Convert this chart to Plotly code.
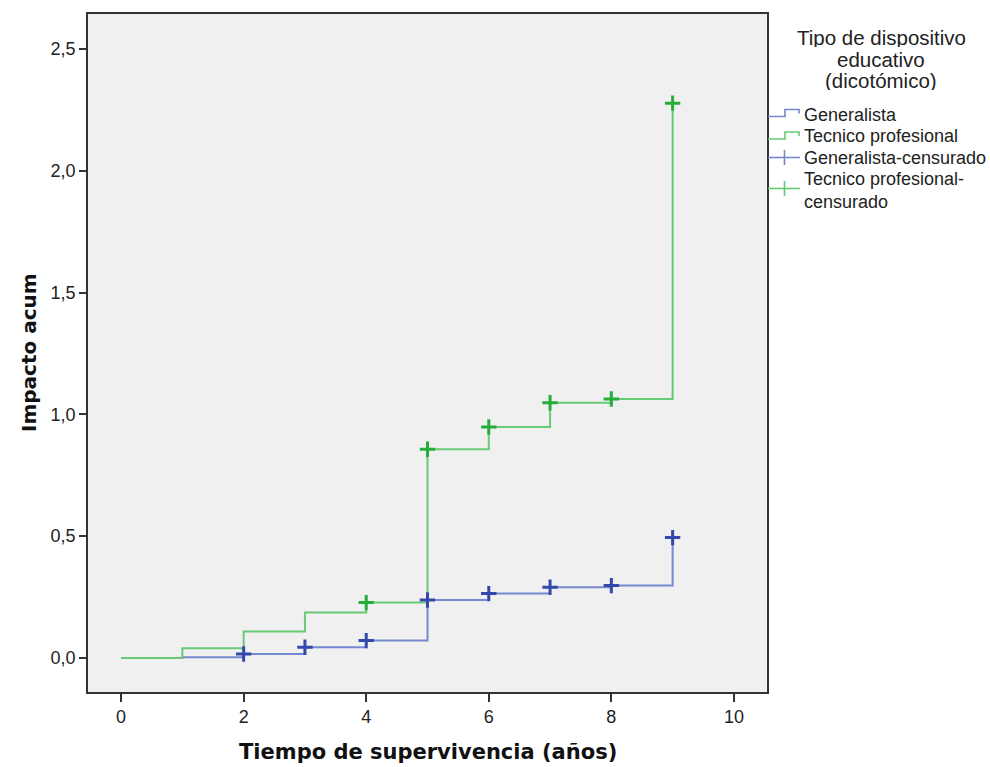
import plotly.graph_objects as go

# Cumulative hazard by year, per type of educational programme
times = [0, 1, 2, 3, 4, 5, 6, 7, 8, 9]
hazard_generalista = [0.0, 0.003, 0.016, 0.044, 0.071, 0.238, 0.264, 0.290, 0.297, 0.494]
hazard_tecnico = [0.0, 0.040, 0.108, 0.186, 0.227, 0.857, 0.948, 1.048, 1.063, 2.278]

# Times with censored observations
censored_generalista = [2, 3, 4, 5, 6, 7, 8, 9]
censored_tecnico = [4, 5, 6, 7, 8, 9]

x_ticks = [0, 2, 4, 6, 8, 10]
y_ticks = [0.0, 0.5, 1.0, 1.5, 2.0, 2.5]
y_tick_labels = ["0,0", "0,5", "1,0", "1,5", "2,0", "2,5"]

legend_title_lines = ["Tipo de dispositivo", "educativo", "(dicotómico)"]
legend_labels = ["Generalista", "Tecnico profesional", "Generalista-censurado",
                 "Tecnico profesional-<br>censurado"]

BLUE_LINE = "rgb(118,136,206)"
BLUE_MARK = "rgb(52,72,172)"
GREEN_LINE = "rgb(104,202,116)"
GREEN_MARK = "rgb(38,174,60)"

W, H = 990, 767
L, R, T, B = 88, 767, 14, 692
TEXT_FONT = "Liberation Sans, Arial"

fig = go.Figure()

fig.add_trace(go.Scatter(x=times, y=hazard_generalista, mode="lines",
                         line=dict(shape="hv", color=BLUE_LINE, width=2),
                         name="Generalista", showlegend=False))
fig.add_trace(go.Scatter(x=times, y=hazard_tecnico, mode="lines",
                         line=dict(shape="hv", color=GREEN_LINE, width=2),
                         name="Tecnico profesional", showlegend=False))

gen_y = [hazard_generalista[times.index(t)] for t in censored_generalista]
tec_y = [hazard_tecnico[times.index(t)] for t in censored_tecnico]

fig.add_trace(go.Scatter(x=censored_generalista, y=gen_y, mode="markers",
                         marker=dict(symbol="cross-thin", size=11,
                                     line=dict(color=BLUE_MARK, width=3)),
                         name="Generalista-censurado", showlegend=False))
fig.add_trace(go.Scatter(x=censored_tecnico, y=tec_y, mode="markers",
                         marker=dict(symbol="cross-thin", size=11,
                                     line=dict(color=GREEN_MARK, width=3)),
                         name="Tecnico profesional-censurado", showlegend=False))


def px(xp):
    return (xp - L) / (R - L)


def py(yp):
    return (B - yp) / (B - T)


def path(points):
    return "M " + " L ".join(f"{px(a):.5f},{py(b):.5f}" for a, b in points)


shapes = []
# step icons for the legend
shapes.append(dict(type="path", xref="paper", yref="paper",
                   path=path([(768, 116.5), (785, 116.5), (785, 109.5), (799, 109.5), (799, 113.5)]),
                   line=dict(color=BLUE_LINE, width=1.6)))
shapes.append(dict(type="path", xref="paper", yref="paper",
                   path=path([(768, 139), (785, 139), (785, 132), (799, 132), (799, 136)]),
                   line=dict(color=GREEN_LINE, width=1.6)))
# censored icons for the legend
for yc, col in [(157.5, BLUE_LINE), (188.5, GREEN_LINE)]:
    shapes.append(dict(type="line", xref="paper", yref="paper",
                       x0=px(768), x1=px(800), y0=py(yc), y1=py(yc),
                       line=dict(color=col, width=1.6)))
    shapes.append(dict(type="line", xref="paper", yref="paper",
                       x0=px(784.5), x1=px(784.5), y0=py(yc - 7.5), y1=py(yc + 7.5),
                       line=dict(color=col, width=1.6)))

annotations = [
    dict(text="Tiempo de supervivencia (años)", x=0.5, y=py(752), xref="paper", yref="paper",
         xanchor="center", yanchor="middle", showarrow=False,
         font=dict(family="DejaVu Sans", size=21, color="#111", weight="bold")),
    dict(text="Impacto acum", x=px(29), y=0.5, xref="paper", yref="paper", textangle=-90,
         xanchor="center", yanchor="middle", showarrow=False,
         font=dict(family="DejaVu Sans", size=20, color="#111", weight="bold")),
]
for line, yc in zip(legend_title_lines, [37, 59, 80]):
    annotations.append(dict(text=line, x=px(881), y=py(yc), xref="paper", yref="paper",
                            xanchor="center", yanchor="middle", showarrow=False,
                            height=20,
                            font=dict(family=TEXT_FONT, size=20.5, color="#222")))
for label, yc in zip(legend_labels, [115, 136, 158, 190]):
    annotations.append(dict(text=label, x=px(802), y=py(yc), xref="paper", yref="paper",
                            xanchor="left", yanchor="middle", showarrow=False, align="left",
                            font=dict(family=TEXT_FONT, size=18, color="#222")))

fig.update_layout(
    width=W, height=H,
    margin=dict(l=L, r=W - R, t=T, b=H - B, pad=0),
    paper_bgcolor="white", plot_bgcolor="#F0F0F0",
    showlegend=False,
    shapes=shapes, annotations=annotations,
    font=dict(family=TEXT_FONT, size=18, color="#222"),
)
fig.update_xaxes(range=[-0.54, 10.54], tickvals=x_ticks, ticktext=[str(v) for v in x_ticks],
                 showgrid=False, zeroline=False, showline=True, mirror=True,
                 linecolor="#333", linewidth=1.5, ticks="outside", ticklen=8,
                 tickcolor="#333", tickwidth=1.5,
                 tickfont=dict(family=TEXT_FONT, size=18, color="#222"))
fig.update_yaxes(range=[-0.14, 2.644], tickvals=y_ticks, ticktext=y_tick_labels,
                 showgrid=False, zeroline=False, showline=True, mirror=True,
                 linecolor="#333", linewidth=1.5, ticks="outside", ticklen=7,
                 tickcolor="#333", tickwidth=1.5,
                 tickfont=dict(family=TEXT_FONT, size=18, color="#222"))

fig.write_html("out.html")
